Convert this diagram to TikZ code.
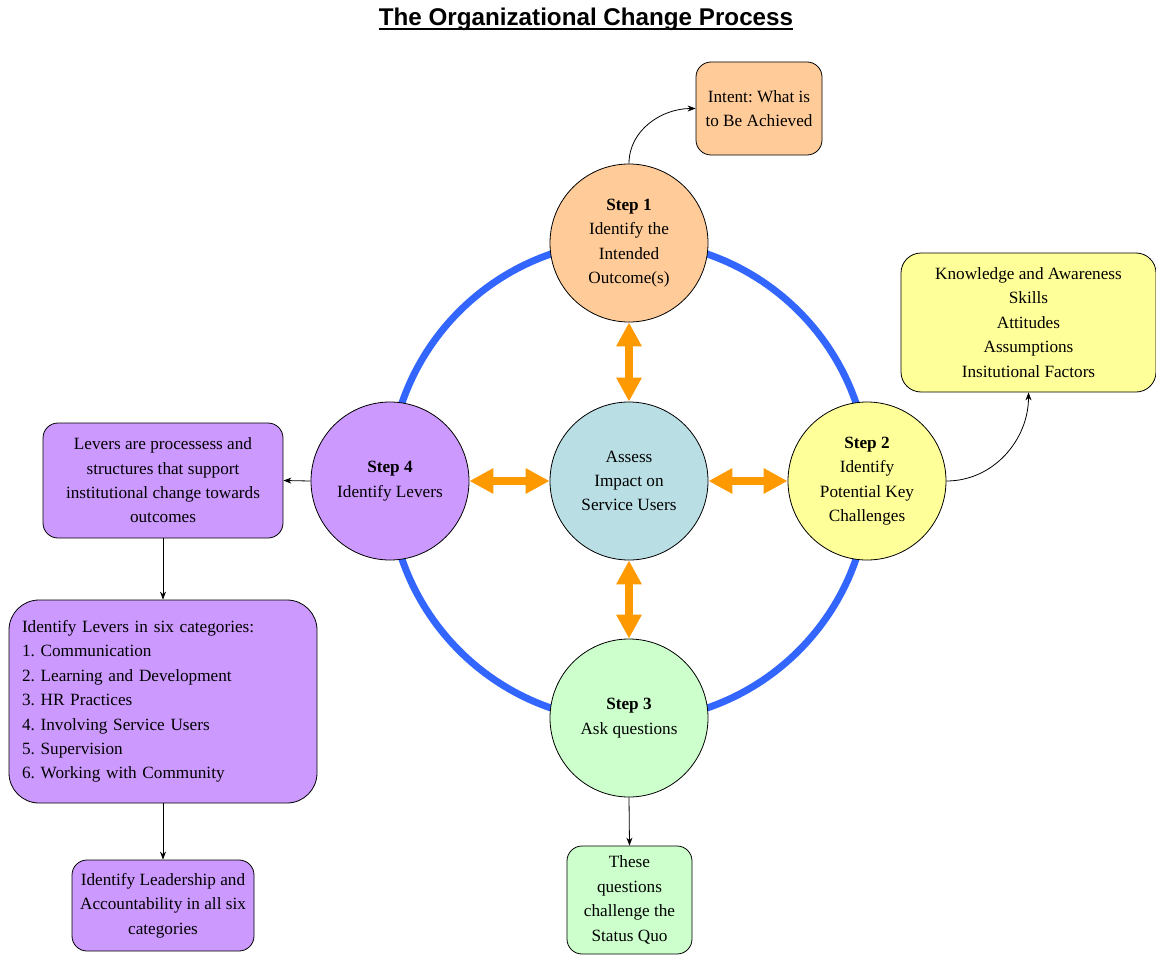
\documentclass[tikz,border=0pt]{standalone}
\usepackage{fontspec}
\setmainfont{Liberation Serif}
\newfontfamily\titlefont{Liberation Sans}
\usetikzlibrary{arrows.meta,calc}
\frenchspacing

\definecolor{ringblue}{HTML}{3366FF}
\definecolor{arroworange}{HTML}{FF9900}
\definecolor{peach}{HTML}{FFCC99}
\definecolor{paleyellow}{HTML}{FFFF99}
\definecolor{palegreen}{HTML}{CCFFCC}
\definecolor{lilac}{HTML}{CC99FF}
\definecolor{paleteal}{HTML}{B9DFE4}

\newcommand{\bodyfont}{\fontsize{17.2}{24.4}\selectfont}

\tikzset{
  stepcirc/.style={circle, draw=black, line width=0.8pt, minimum size=158pt,
    inner sep=0pt, align=center, font=\bodyfont},
  infobox/.style={draw=black, line width=0.8pt, rounded corners=15pt,
    align=center, inner sep=0pt, font=\bodyfont},
  linkarrow/.style={draw=black, line width=0.8pt, -{Stealth[length=8pt,width=6pt]}},
  twoway/.style={draw=arroworange, line width=8pt,
    {Triangle[length=24pt,width=24pt]}-{Triangle[length=24pt,width=24pt]}}
}

\begin{document}
\begin{tikzpicture}[x=1pt,y=-1pt]
\useasboundingbox (0,0) rectangle (1156,955);

% title
\node[font=\titlefont\bfseries\fontsize{24.2}{28}\selectfont, anchor=base, inner sep=0pt]
  (title) at (586,26) {The Organizational Change Process};
\draw[line width=2pt] ([yshift=-3.5pt]title.base west) -- ([yshift=-3.5pt]title.base east);

% the cycle ring
\draw[ringblue, line width=7pt] (629,481) circle[radius=240pt];

% steps and centre
\node[stepcirc, fill=peach] (s1) at (629,243)
  {\textbf{Step 1}\\Identify the\\Intended\\Outcome(s)};
\node[stepcirc, fill=paleyellow] (s2) at (867,481)
  {\textbf{Step 2}\\Identify\\Potential Key\\Challenges};
\node[stepcirc, fill=palegreen] (s3) at (629,718)
  {\textbf{Step 3}\\Ask questions};
\node[stepcirc, fill=lilac] (s4) at (390,481)
  {\textbf{Step 4}\\Identify Levers};
\node[stepcirc, fill=paleteal] (ctr) at (629,481)
  {Assess\\Impact on\\Service Users};

% two-way links to the centre
\draw[twoway] (s1.south) -- (ctr.north);
\draw[twoway] (ctr.east) -- (s2.west);
\draw[twoway] (ctr.south) -- (s3.north);
\draw[twoway] (s4.east) -- (ctr.west);

% side boxes
\node[infobox, fill=peach, minimum width=126pt, minimum height=93pt] (intent) at (759,108.5)
  {Intent: What is\\to Be Achieved};
\node[infobox, fill=paleyellow, rounded corners=20pt, minimum width=255pt, minimum height=139pt]
  (know) at (1028.5,322.5)
  {Knowledge and Awareness\\Skills\\Attitudes\\Assumptions\\Insitutional Factors};
\node[infobox, fill=lilac, minimum width=240pt, minimum height=115pt] (levers) at (163,480.5)
  {Levers are processess and\\structures that support\\institutional change towards\\outcomes};
\node[infobox, fill=lilac, rounded corners=30pt, align=left, text width=282pt,
  inner xsep=13pt, minimum height=203pt] (six) at (163,701.5)
  {Identify Levers in six categories:\\1. Communication\\2. Learning and Development\\3. HR Practices\\4. Involving Service Users\\5. Supervision\\6. Working with Community\\[5pt]};
\node[infobox, fill=lilac, minimum width=182pt, minimum height=91pt] (lead) at (163,905.5)
  {Identify Leadership and\\Accountability in all six\\categories};
\node[infobox, fill=palegreen, minimum width=125pt, minimum height=108pt] (quo) at (629.5,900)
  {These\\questions\\challenge the\\Status Quo};

% connectors
\draw[linkarrow] (s1.north) to[out=90,in=180] (intent.west);
\draw[linkarrow] (s2.east) to[out=0,in=-90] (know.south);
\draw[linkarrow] (s4.west) -- (levers.east);
\draw[linkarrow] (levers.south) -- (six.north);
\draw[linkarrow] (six.south) -- (lead.north);
\draw[linkarrow] (s3.south) -- (quo.north);
\end{tikzpicture}
\end{document}
